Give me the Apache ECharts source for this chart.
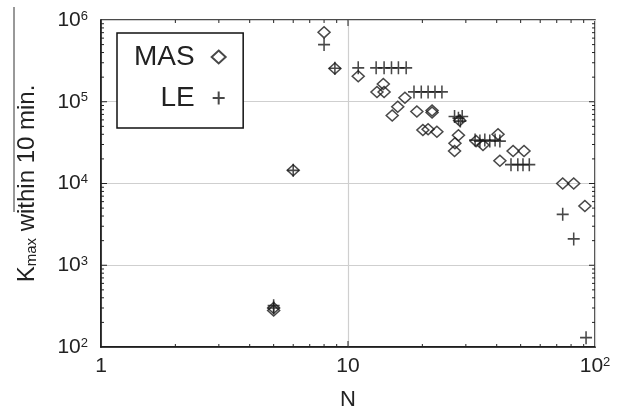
<!DOCTYPE html>
<html>
<head>
<meta charset="utf-8">
<script src="https://cdn.jsdelivr.net/npm/echarts@6/dist/echarts.min.js"></script>
<style>html,body{margin:0;padding:0;background:#fff}#c{width:624px;height:416px}</style>
</head>
<body>
<div id="c"></div>
<script>
// ---- data ----
const masData = [
  [5, 300], [5, 280], [6, 14500], [8, 706000], [8.85, 255000], [11, 205000],
  [13.1, 132000], [13.9, 165000], [14.0, 132000], [15.1, 68000], [15.9, 87000], [17, 112000],
  [19, 76000], [20.1, 45000], [21.1, 46000], [21.9, 78000], [21.9, 74000], [22.9, 43000],
  [28.3, 59000], [28, 39000], [27.1, 31000], [27, 25000], [33, 33000], [35.2, 29500],
  [40.5, 40000], [41.2, 19000], [46.6, 25000], [51.6, 25000], [74, 10000], [82, 10000], [91, 5300]
];
const leData = [
  [5, 300], [5, 320], [6, 14500], [8, 500000], [8.85, 257000], [11, 260000],
  [13, 260000], [14, 260000], [15, 260000], [16, 260000], [17.2, 260000],
  [18.5, 132000], [19.8, 132000], [21.1, 132000], [22.5, 132000], [24, 132000],
  [27, 66000], [28, 63000], [29, 66000], [28.5, 58000],
  [32.7, 34000], [34.2, 33000], [35.8, 34000], [37.5, 33000], [39.4, 34000], [41.2, 33000],
  [45.7, 17000], [48.7, 17000], [51.1, 17000], [54.2, 17000],
  [74, 4200], [82, 2100], [92, 130]
];
const seriesNames = ['MAS', 'LE'];
const xName = 'N';
const yName = 'K{sub|max} within 10 min.';
const xMinorTicks = [2, 3, 4, 5, 6, 7, 8, 9, 20, 30, 40, 50, 60, 70, 80, 90];
const xMajorTicks = [10];
const yMinorTicks = [200, 300, 400, 500, 600, 700, 800, 900,
  2000, 3000, 4000, 5000, 6000, 7000, 8000, 9000,
  20000, 30000, 40000, 50000, 60000, 70000, 80000, 90000,
  200000, 300000, 400000, 500000, 600000, 700000, 800000, 900000];
const yMajorTicks = [1000, 10000, 100000];
const xRange = [1, 100];
const yRange = [100, 1000000];

// ---- tick marks built from the tick arrays (kind 0 = x tick, 1 = y tick) ----
const tickData = [];
xMinorTicks.forEach(v => tickData.push([v, yRange[0], 0, 3]));
xMajorTicks.forEach(v => tickData.push([v, yRange[0], 0, 6]));
yMinorTicks.forEach(v => tickData.push([xRange[0], v, 1, 3]));
yMajorTicks.forEach(v => tickData.push([xRange[0], v, 1, 6]));

const chart = echarts.init(document.getElementById('c'), null, {renderer: 'canvas'});
const baseFont = 'Liberation Sans, Arial, sans-serif';

function supLabel(v, plainOne) {
  const e = Math.round(Math.log10(v));
  if (plainOne && e === 0) return '{b|1}';
  if (plainOne && e === 1) return '{b|10}';
  return '{b|10}{sup|' + e + '}';
}
const labelRich = {
  b: {fontSize: 21, fontFamily: baseFont, color: '#222'},
  sup: {fontSize: 13, fontFamily: baseFont, color: '#222', verticalAlign: 'top'}
};

const plusPath = 'path://M0,6.5H12M6,0V13';

chart.setOption({
  animation: false,
  backgroundColor: '#fff',
  textStyle: {fontFamily: baseFont},
  grid: {left: 101, right: 29, top: 20, bottom: 65, show: true, borderColor: '#111', borderWidth: 1.5, backgroundColor: 'transparent'},
  legend: {
    data: seriesNames,
    orient: 'vertical',
    align: 'right',
    left: 117,
    top: 33,
    padding: [10, 16, 16, 17],
    itemGap: 13,
    itemWidth: 14,
    itemHeight: 13,
    borderColor: '#111',
    borderWidth: 1.5,
    backgroundColor: '#fff',
    textStyle: {fontSize: 28, color: '#222', fontFamily: baseFont, padding: [0, 12, 0, 0]}
  },
  xAxis: {
    type: 'log', logBase: 10, min: xRange[0], max: xRange[1],
    name: xName, nameLocation: 'middle', nameGap: 42,
    nameTextStyle: {fontSize: 22, color: '#222', fontFamily: baseFont},
    axisLine: {show: true, lineStyle: {color: '#111', width: 1.5}},
    axisTick: {show: false},
    axisLabel: {margin: 9, formatter: v => supLabel(v, true), rich: labelRich, showMinLabel: true, showMaxLabel: true},
    splitLine: {show: true, lineStyle: {color: '#cfcfcf', width: 1.2}}
  },
  yAxis: {
    type: 'log', logBase: 10, min: yRange[0], max: yRange[1],
    name: yName, nameLocation: 'middle', nameGap: 62,
    nameTextStyle: {fontSize: 24, color: '#222', fontFamily: baseFont,
      rich: {sub: {fontSize: 15, color: '#222', fontFamily: baseFont, verticalAlign: 'bottom'}}},
    axisLine: {show: true, lineStyle: {color: '#111', width: 1.5}},
    axisTick: {show: false},
    axisLabel: {margin: 13, formatter: v => supLabel(v, false), rich: labelRich, showMinLabel: true, showMaxLabel: true},
    splitLine: {show: true, lineStyle: {color: '#cfcfcf', width: 1.2}}
  },
  graphic: [
    {type: 'line', shape: {x1: 14, y1: 7, x2: 14, y2: 212}, style: {stroke: '#333', lineWidth: 1}, silent: true}
  ],
  series: [
    {
      name: 'ticks', type: 'custom', silent: true, clip: false, z: 5,
      data: tickData,
      renderItem: function (params, api) {
        const v0 = api.value(0), v1 = api.value(1), kind = api.value(2), len = api.value(3);
        const st = {stroke: '#222', lineWidth: 1};
        if (kind === 0) {
          const b = api.coord([v0, yRange[0]]);
          const t = api.coord([v0, yRange[1]]);
          return {type: 'group', children: [
            {type: 'line', shape: {x1: b[0], y1: b[1], x2: b[0], y2: b[1] - len}, style: st},
            {type: 'line', shape: {x1: t[0], y1: t[1], x2: t[0], y2: t[1] + len}, style: st}
          ]};
        } else {
          const l = api.coord([xRange[0], v1]);
          const r = api.coord([xRange[1], v1]);
          return {type: 'group', children: [
            {type: 'line', shape: {x1: l[0], y1: l[1], x2: l[0] + len, y2: l[1]}, style: st},
            {type: 'line', shape: {x1: r[0], y1: r[1], x2: r[0] - len, y2: r[1]}, style: st}
          ]};
        }
      }
    },
    {
      name: seriesNames[0], type: 'scatter', data: masData, z: 3,
      symbol: 'diamond', symbolSize: [12, 11],
      itemStyle: {color: 'rgba(255,255,255,0)', borderColor: '#1a1a1a', borderWidth: 1.5}
    },
    {
      name: seriesNames[1], type: 'scatter', data: leData, z: 4,
      symbol: plusPath, symbolSize: [12, 13],
      itemStyle: {color: 'none', borderColor: '#1a1a1a', borderWidth: 1.6}
    }
  ]
});
</script>
</body>
</html>
